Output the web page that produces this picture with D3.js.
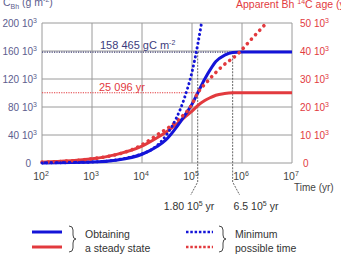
<!DOCTYPE html>
<html>
<head>
<meta charset="utf-8">
<script src="https://cdn.jsdelivr.net/npm/d3@7"></script>
<style>
body { margin: 0; background: #fff; }
svg { font-family: "Liberation Sans", Arial, sans-serif; }
</style>
</head>
<body>
<script>
var w = 341;
var h = 255;

// time (yr) and values
var timeSteady = [1e2, 1e3, 3e3, 1e4, 2e4, 3e4, 5e4, 7e4, 1e5, 1.3e5, 1.8e5, 2.3e5, 3e5, 4.5e5, 6.5e5, 1e6, 1e7];
var carbonSteady = [130, 1300, 3900, 12500, 23500, 33000, 52000, 67000, 84000, 100000, 120000, 133000, 145000, 154000, 158000, 158465, 158465];
var ageSteady = [300, 1500, 3000, 6000, 9000, 11000, 14000, 16200, 18500, 20500, 22300, 23300, 24200, 24800, 25050, 25096, 25096];

var timeMinC = [1e2, 1e3, 1e4, 3e4, 5e4, 7e4, 1e5, 1.3e5, 1.55e5];
var carbonMin = [130, 1300, 13000, 39000, 66000, 92000, 130000, 169000, 200000];

var timeMinAge = [1e2, 1e3, 1e4, 2e4, 5e4, 1e5, 1.3e5, 2e5, 4e5, 8.3e5, 1.5e6, 2.9e6];
var ageMin = [300, 1500, 6500, 10000, 15000, 21000, 25000, 29000, 34500, 39000, 44000, 49500];

var carbonTicks = [0, 40, 80, 120, 160, 200];   // x 10^3
var ageTicks = [0, 10, 20, 30, 40, 50];         // x 10^3
var timeTicks = [1e2, 1e3, 1e4, 1e5, 1e6, 1e7];

var steadyCarbon = 158465;
var steadyAge = 25096;
var markerTimes = [1.3e5, 6.5e5];
var markerLabels = [["1.80 10", "5", " yr"], ["6.5 10", "5", " yr"]];

var blue = "#1414d8";
var red = "#e23a3e";
var leftInk = "#5d5d8e";
var grid = "#9a9a9a";

var svg = d3.select("body").append("svg")
            .attr("width", w)
            .attr("height", h);

var xScale = d3.scaleLog().domain([1e2, 1e7]).range([42, 292]);
var yLeft = d3.scaleLinear().domain([0, 200000]).range([163, 23]);
var yRight = d3.scaleLinear().domain([0, 50000]).range([163, 23]);

// grid
svg.append("g").selectAll("line")
   .data(carbonTicks)
   .enter().append("line")
   .attr("x1", 42).attr("x2", 292)
   .attr("y1", function (d) { return yLeft(d * 1000); })
   .attr("y2", function (d) { return yLeft(d * 1000); })
   .attr("stroke", grid).attr("stroke-width", 1);

svg.append("g").selectAll("line")
   .data(timeTicks)
   .enter().append("line")
   .attr("x1", function (d) { return xScale(d); })
   .attr("x2", function (d) { return xScale(d); })
   .attr("y1", 23).attr("y2", 163)
   .attr("stroke", grid).attr("stroke-width", 1);

// helper for "a 10^b" style labels
function supText(sel, base, sup, rest) {
    sel.append("tspan").text(base);
    sel.append("tspan").attr("dy", -4).style("font-size", "7px").text(sup);
    if (rest) sel.append("tspan").attr("dy", 4).text(rest);
}

// left ticks
carbonTicks.forEach(function (d) {
    var t = svg.append("text")
               .attr("x", d === 0 ? 31 : 37)
               .attr("y", yLeft(d * 1000) + 4)
               .attr("text-anchor", "end")
               .attr("fill", leftInk)
               .style("font-size", "10px");
    if (d === 0) t.text("0");
    else supText(t, d + " 10", "3");
});

// right ticks
ageTicks.forEach(function (d) {
    var t = svg.append("text")
               .attr("x", d === 0 ? 303 : 300)
               .attr("y", yRight(d * 1000) + 4)
               .attr("fill", red)
               .style("font-size", "10px");
    if (d === 0) t.text("0");
    else supText(t, d + " 10", "3");
});

// bottom ticks
timeTicks.forEach(function (d) {
    var t = svg.append("text")
               .attr("x", xScale(d) - 1)
               .attr("y", 180)
               .attr("text-anchor", "middle")
               .attr("fill", "#444")
               .style("font-size", "10.5px");
    supText(t, "10", String(Math.round(Math.log10(d))));
});

// axis titles
var tl = svg.append("text").attr("x", 3).attr("y", 6).attr("fill", leftInk).style("font-size", "10.5px");
tl.append("tspan").text("C");
tl.append("tspan").attr("dy", 3).style("font-size", "7px").text("Bh");
tl.append("tspan").attr("dy", -3).text(" (g m");
tl.append("tspan").attr("dy", -4).style("font-size", "7px").text("-2");
tl.append("tspan").attr("dy", 4).text(")");

var tr = svg.append("text").attr("x", 236).attr("y", 8).attr("fill", red).style("font-size", "10.5px");
tr.append("tspan").text("Apparent Bh ");
tr.append("tspan").attr("dy", -4).style("font-size", "7px").text("14");
tr.append("tspan").attr("dy", 4).text("C age (yr)");

svg.append("text").attr("x", 294).attr("y", 191)
   .attr("fill", "#444").style("font-size", "10px").text("Time (yr)");

// reference lines
svg.append("line")
   .attr("x1", 42).attr("x2", xScale(markerTimes[1]))
   .attr("y1", yLeft(steadyCarbon)).attr("y2", yLeft(steadyCarbon))
   .attr("stroke", "#3c3c70").attr("stroke-width", 1.2).attr("stroke-dasharray", "1.2 1.2");

svg.append("line")
   .attr("x1", 42).attr("x2", xScale(1.2e5))
   .attr("y1", yRight(steadyAge)).attr("y2", yRight(steadyAge))
   .attr("stroke", red).attr("stroke-width", 1.2).attr("stroke-dasharray", "1.2 1.2");

var lbl = svg.append("text").attr("x", 100).attr("y", 49)
             .attr("fill", "#3c3c7c").style("font-size", "11px");
lbl.append("tspan").text("158 465 gC m");
lbl.append("tspan").attr("dy", -4).style("font-size", "7px").text("-2");

svg.append("text").attr("x", 99).attr("y", 91)
   .attr("fill", red).style("font-size", "11px").text("25 096 yr");

// marker lines with bent tails
markerTimes.forEach(function (d, i) {
    var x = xScale(d);
    var dir = i === 0 ? -7 : 7;
    svg.append("path")
       .attr("d", "M" + x + "," + yLeft(steadyCarbon) + "V182l" + dir + ",13")
       .attr("fill", "none").attr("stroke", "#555")
       .attr("stroke-width", 0.9).attr("stroke-dasharray", "2 1.2");
    var t = svg.append("text")
               .attr("x", i === 0 ? 189 : 256).attr("y", 210)
               .attr("text-anchor", "middle")
               .attr("fill", "#333").style("font-size", "10.5px");
    supText(t, markerLabels[i][0], markerLabels[i][1], markerLabels[i][2]);
});

// curves
function line(times, yScale) {
    return d3.line()
             .x(function (d, i) { return xScale(times[i]); })
             .y(function (d) { return yScale(d); })
             .curve(d3.curveMonotoneX);
}

svg.append("path").datum(ageSteady)
   .attr("d", line(timeSteady, yRight))
   .attr("fill", "none").attr("stroke", red).attr("stroke-width", 3);

svg.append("path").datum(carbonSteady)
   .attr("d", line(timeSteady, yLeft))
   .attr("fill", "none").attr("stroke", blue).attr("stroke-width", 3);

svg.append("path").datum(ageMin)
   .attr("d", line(timeMinAge, yRight))
   .attr("fill", "none").attr("stroke", red).attr("stroke-width", 3.6)
   .attr("stroke-linecap", "round").attr("stroke-dasharray", "0.1 6");

svg.append("path").datum(carbonMin)
   .attr("d", line(timeMinC, yLeft))
   .attr("fill", "none").attr("stroke", blue).attr("stroke-width", 3)
   .attr("stroke-linecap", "round").attr("stroke-dasharray", "0.1 4.5");

// legend
var legend = [
    {x: 32, y: 232, color: blue, dash: null},
    {x: 32, y: 247, color: red, dash: null},
    {x: 186, y: 232, color: blue, dash: "2.5 1.8"},
    {x: 186, y: 247, color: red, dash: "2.5 1.8"}
];
legend.forEach(function (d) {
    svg.append("line")
       .attr("x1", d.x).attr("x2", d.x + (d.dash ? 27 : 30))
       .attr("y1", d.y).attr("y2", d.y)
       .attr("stroke", d.color).attr("stroke-width", d.dash ? 2.5 : 3)
       .attr("stroke-dasharray", d.dash);
});

function brace(x) {
    svg.append("path")
       .attr("d", "M" + x + ",226 q4,0 4,4 v5 q0,4 3,4 q-3,0 -3,4 v5 q0,4 -4,4")
       .attr("fill", "none").attr("stroke", "#333").attr("stroke-width", 0.9);
}
brace(69);
brace(219);

[["Obtaining", 85, 238], ["a steady state", 85, 252], ["Minimum", 235, 238], ["possible time", 235, 252]]
    .forEach(function (d) {
        svg.append("text").attr("x", d[1]).attr("y", d[2])
           .attr("fill", "#333").style("font-size", "10.5px").text(d[0]);
    });
</script>
</body>
</html>
